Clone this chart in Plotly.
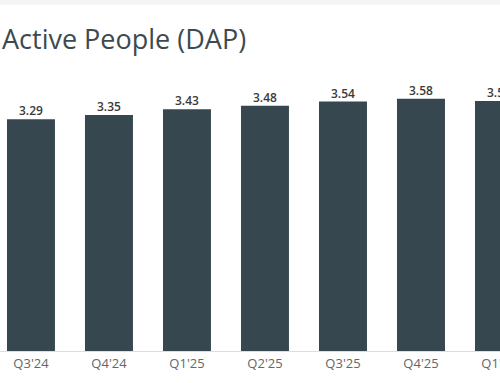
import plotly.graph_objects as go

categories = ["Q3'24", "Q4'24", "Q1'25", "Q2'25", "Q3'25", "Q4'25", "Q1'26"]
values = [3.29, 3.35, 3.43, 3.48, 3.54, 3.58, 3.55]
labels = ["3.29", "3.35", "3.43", "3.48", "3.54", "3.58", "3.55"]
title_text = "Active People (DAP)"

W, H = 500, 383
T, B = 60, 32
plot_h = H - T - B

def py(p):
    return (H - B - p) / plot_h

fig = go.Figure(go.Bar(
    x=categories, y=values,
    marker=dict(color="#36474f", line=dict(width=0)),
    width=0.615, cliponaxis=True, hoverinfo="skip",
))

value_annots = [dict(text=lab, x=c, y=v, xref="x", yref="y", xanchor="center", yanchor="bottom",
                     yshift=-2, showarrow=False,
                     font=dict(family="Open Sans", size=12, color="#3a3a3a", weight=600))
                for c, v, lab in zip(categories, values, labels)]

fig.update_layout(
    width=W, height=H,
    margin=dict(l=0, r=0, t=T, b=B, autoexpand=False),
    paper_bgcolor="white", plot_bgcolor="white",
    showlegend=False,
    xaxis=dict(range=[-0.397, 6.013], showline=True, linecolor="#dddddd", linewidth=1,
               ticks="", showgrid=False, zeroline=False, automargin=False,
               tickfont=dict(family="Open Sans", size=13, color="#666666")),
    yaxis=dict(range=[0, plot_h / 70.45], visible=False, showgrid=False, zeroline=False,
               automargin=False),
    annotations=[dict(text=title_text, xref="paper", yref="paper", x=0.0, y=py(38),
                      xanchor="left", yanchor="middle", showarrow=False,
                      font=dict(family="Open Sans", size=27, color="#3d4a50"))] + value_annots,
    shapes=[dict(type="rect", xref="paper", yref="paper", x0=0, x1=1, y0=py(5), y1=py(0),
                 fillcolor="#f5f5f5", line=dict(width=0), layer="below")],
)

fig.write_html("out.html", config={"displayModeBar": False},
               post_script="document.body.style.margin='0px';")
